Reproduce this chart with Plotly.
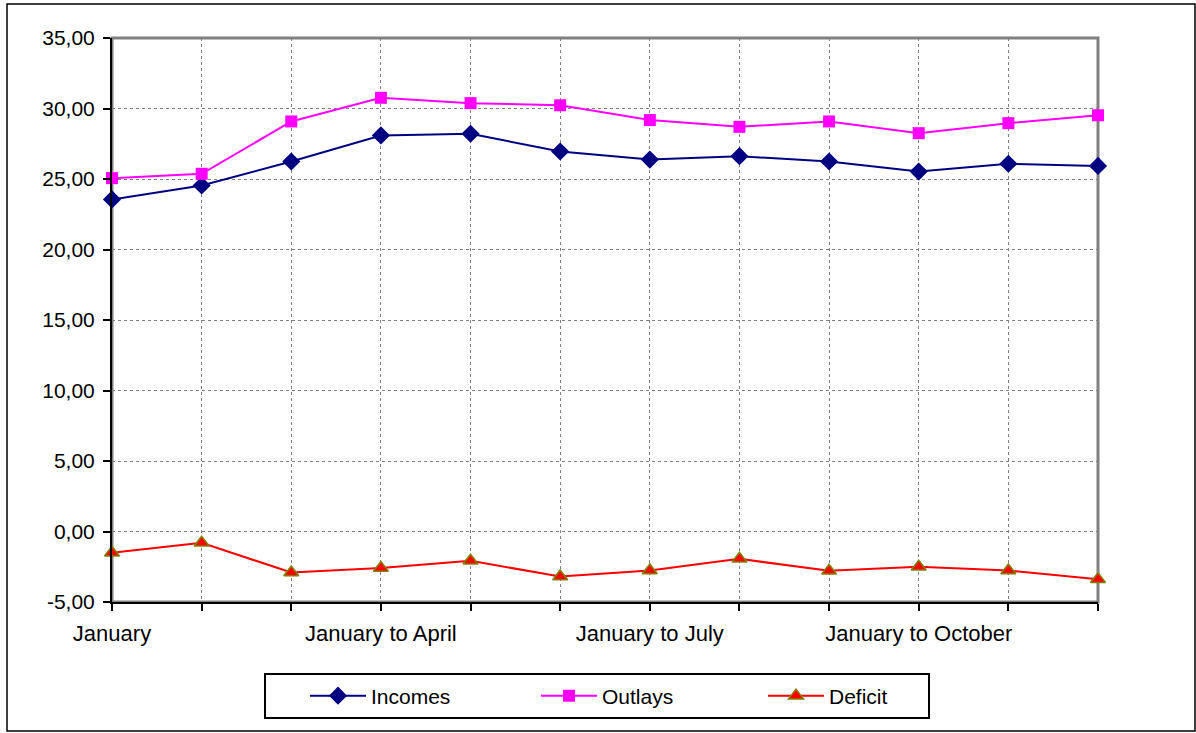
import plotly.graph_objects as go

# Cumulative periods (January, January to February, ..., January to December)
months = ["January", "February", "March", "April", "May", "June", "July",
          "August", "September", "October", "November", "December"]
periods = ["January"] + ["January to " + m for m in months[1:]]

incomes = [23.55, 24.54, 26.24, 28.09, 28.21, 26.95, 26.38, 26.62, 26.24, 25.53, 26.08, 25.93]
outlays = [25.06, 25.37, 29.08, 30.76, 30.38, 30.23, 29.18, 28.70, 29.08, 28.25, 28.96, 29.52]
deficit = [-1.51, -0.80, -2.91, -2.58, -2.08, -3.19, -2.77, -1.94, -2.79, -2.50, -2.77, -3.38]

# Only every third period is labelled on the category axis
x_labels = [p if i % 3 == 0 else "" for i, p in enumerate(periods)]
y_ticks = [-5, 0, 5, 10, 15, 20, 25, 30, 35]
y_labels = ["-5,00", "0,00", "5,00", "10,00", "15,00", "20,00", "25,00", "30,00", "35,00"]

xs = list(range(len(periods)))
FONT = "Liberation Sans, Arial, sans-serif"

W, H = 1196, 733
L, R, T, B = 112, 98, 38, 131
pw, ph = W - L - R, H - T - B

def px_x(v):
    return (v - L) / pw

def px_y(v):
    return (H - B - v) / ph

fig = go.Figure()
fig.add_trace(go.Scatter(
    x=xs, y=incomes, name="Incomes", mode="lines+markers",
    line=dict(color="#000080", width=2),
    marker=dict(symbol="diamond", size=14, color="#000080"),
    cliponaxis=False, customdata=periods, legend="legend",
))
fig.add_trace(go.Scatter(
    x=xs, y=outlays, name="Outlays", mode="lines+markers",
    line=dict(color="#FF00FF", width=2),
    marker=dict(symbol="square", size=12, color="#FF00FF"),
    cliponaxis=False, customdata=periods, legend="legend2",
))
fig.add_trace(go.Scatter(
    x=xs, y=deficit, name="Deficit", mode="lines+markers",
    line=dict(color="#FF0000", width=2),
    marker=dict(symbol="triangle-up", size=13, color="#FF0000",
                line=dict(color="#808000", width=1.5)),
    cliponaxis=False, customdata=periods, legend="legend3",
))

legend_font = dict(family=FONT, size=21, color="black")

def legend_at(x_left):
    return dict(
        x=px_x(x_left), xanchor="left",
        y=px_y(696), yanchor="middle",
        borderwidth=0, bgcolor="rgba(0,0,0,0)",
        font=legend_font, itemwidth=56,
    )

fig.update_layout(
    width=W, height=H,
    margin=dict(l=L, r=R, t=T, b=B),
    paper_bgcolor="white", plot_bgcolor="white",
    font=dict(family=FONT, size=21, color="black"),
    showlegend=True,
    legend=legend_at(305),
    legend2=legend_at(536),
    legend3=legend_at(763),
    shapes=[
        # grey frame on top / right of the plotting area
        dict(type="rect", xref="paper", yref="paper", x0=0, x1=1, y0=0, y1=1,
             line=dict(color="#808080", width=3), layer="between"),
        # legend box
        dict(type="rect", xref="paper", yref="paper",
             x0=px_x(265), x1=px_x(929), y0=px_y(718), y1=px_y(674),
             line=dict(color="black", width=2), layer="below"),
        # outer chart border
        dict(type="rect", xref="paper", yref="paper",
             x0=px_x(7), x1=px_x(1195), y0=px_y(731), y1=px_y(4),
             line=dict(color="black", width=1.5), layer="below"),
    ],
)

fig.update_xaxes(
    range=[0, len(periods) - 1],
    tickmode="array", tickvals=xs, ticktext=x_labels,
    showgrid=True, gridcolor="#808080", gridwidth=1, griddash="dot",
    showline=True, linecolor="black", linewidth=2,
    ticks="outside", ticklen=7, tickwidth=1.5, tickcolor="black",
    tickfont=dict(family=FONT, size=22), ticklabelstandoff=4, zeroline=False,
)
fig.update_yaxes(
    range=[-5, 35],
    tickmode="array", tickvals=y_ticks, ticktext=y_labels,
    showgrid=True, gridcolor="#808080", gridwidth=1, griddash="dot",
    showline=True, linecolor="black", linewidth=2,
    ticks="outside", ticklen=7, tickwidth=1.5, tickcolor="black",
    tickfont=dict(family=FONT, size=21), ticklabelstandoff=4, zeroline=False,
)

fig.write_html("out.html")
